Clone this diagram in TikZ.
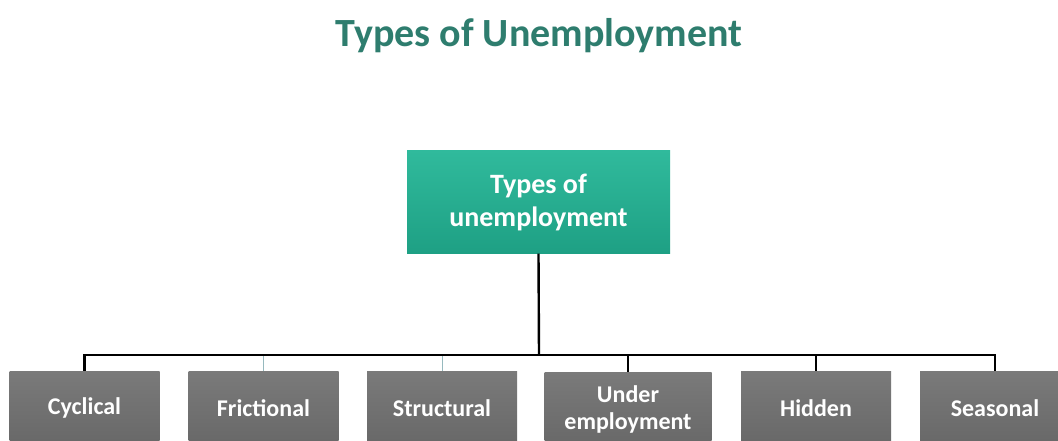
\documentclass[tikz,border=0pt]{standalone}
\usepackage{fontspec}
\setmainfont{Carlito}
\usetikzlibrary{positioning}
\definecolor{titleteal}{RGB}{46,125,110}
\definecolor{tealtop}{RGB}{48,186,156}
\definecolor{tealbot}{RGB}{30,160,132}
\definecolor{graytop}{RGB}{122,122,122}
\definecolor{graybot}{RGB}{104,104,104}
\definecolor{faint}{RGB}{150,185,190}
\tikzset{
  rootbox/.style={rectangle, minimum width=263pt, minimum height=103pt, top color=tealtop, bottom color=tealbot, draw=none, text=white, font=\bfseries\fontsize{28}{33}\selectfont, align=center, inner sep=0pt},
  leafbox/.style={rectangle, minimum width=150pt, minimum height=74pt, top color=graytop, bottom color=graybot, draw=none, text=white, font=\bfseries\fontsize{24}{27}\selectfont, align=center, inner sep=0pt},
  link/.style={draw=black, line width=2.4pt},
  faintlink/.style={draw=faint, line width=1pt},
}
\begin{document}
\begin{tikzpicture}[x=1pt,y=-1pt]
\useasboundingbox (0,0) rectangle (1058,441);
\fill[white] (0,0) rectangle (1058,441);
\clip (0,0) rectangle (1058,441);
\node[font=\bfseries\fontsize{40}{46}\selectfont, text=titleteal] (title) at (539,36) {Types of Unemployment};
\node[rootbox] (root) at (538.5,202) {Types of\\unemployment};
\node[leafbox] (c1) at (84.5,408) {Cyclical};
\node[leafbox] (c2) at (263.5,408) {Frictional};
\node[leafbox] (c3) at (442,408) {Structural};
\node[leafbox, minimum width=167pt] (c4) at (628,409) {Under\\employment};
\node[leafbox] (c5) at (816,408) {Hidden};
\node[leafbox] (c6) at (995,408) {Seasonal};
\coordinate (bus) at (539,355);
\draw[faintlink] (bus -| c2.north) -- (c2.north);
\draw[faintlink] (bus -| c3.north) -- (c3.north);
\draw[link] (root.south) -- (bus);
\draw[link] (bus) -| (c1.north);
\draw[link] (bus) -| (c4.north);
\draw[link] (bus) -| (c5.north);
\draw[link] (bus) -| (c6.north);
\end{tikzpicture}
\end{document}
